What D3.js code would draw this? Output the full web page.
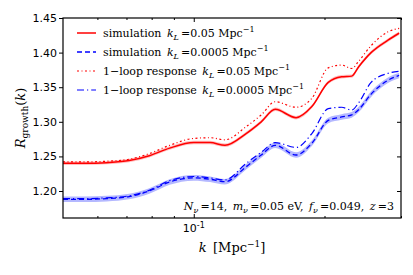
<!DOCTYPE html>
<html>
<head>
<meta charset="utf-8">
<script src="https://cdn.jsdelivr.net/npm/d3@7"></script>
<style>
  body { margin: 0; background: #fff; }
  svg { display: block; }
  .tick text { font-family: "DejaVu Sans", sans-serif; }
  .serif { font-family: "DejaVu Serif", "Liberation Serif", serif; }
</style>
</head>
<body>
<svg id="chart" width="413" height="275"></svg>
<script>
const kValues = [0.050, 0.056, 0.063, 0.071, 0.079, 0.088, 0.100, 0.109, 0.118, 0.132, 0.143,
  0.154, 0.172, 0.187, 0.204, 0.219, 0.231, 0.240, 0.256, 0.280, 0.297]
const simHigh = [1.240, 1.240, 1.241, 1.244, 1.251, 1.262, 1.270, 1.270, 1.266, 1.283, 1.300,
  1.318, 1.306, 1.322, 1.357, 1.365, 1.366, 1.380, 1.400, 1.418, 1.428]
const loopHigh = [1.242, 1.242, 1.243, 1.246, 1.254, 1.266, 1.276, 1.277, 1.274, 1.293, 1.310,
  1.329, 1.321, 1.334, 1.378, 1.382, 1.377, 1.388, 1.410, 1.430, 1.435]
const simLow = [1.188, 1.188, 1.189, 1.192, 1.200, 1.213, 1.219, 1.217, 1.2135, 1.235, 1.252,
  1.266, 1.252, 1.269, 1.302, 1.307, 1.310, 1.318, 1.340, 1.360, 1.367]
const loopLow = [1.189, 1.189, 1.190, 1.193, 1.201, 1.215, 1.221, 1.219, 1.216, 1.240, 1.256,
  1.270, 1.263, 1.283, 1.319, 1.321, 1.317, 1.328, 1.357, 1.370, 1.373]
const errHigh = 0.0025
const errLow = 0.004
const yTicks = [1.20, 1.25, 1.30, 1.35, 1.40, 1.45]
const xMinor = [0.06, 0.07, 0.08, 0.09, 0.2, 0.3]

const svg = d3.select("#chart")
const margin = {left: 63, right: 401, top: 18, bottom: 218}

const x = d3.scaleLog().domain([0.05, 0.3]).range([margin.left, margin.right])
const y = d3.scaleLinear().domain([1.161, 1.45]).range([margin.bottom, margin.top])

const series = [
  {vals: simHigh, color: "#ff0000", dash: null, width: 1.5, band: errHigh, bandColor: "#ffc0c0", label: "simulation", kl: "0.05"},
  {vals: simLow, color: "#0000ff", dash: "5,3", width: 1.3, band: errLow, bandColor: "#b4b8ff", label: "simulation", kl: "0.0005"},
  {vals: loopHigh, color: "#ff0000", dash: "2,2.5,1,2.5", width: 1.2, band: 0, label: "1\u2212loop response", kl: "0.05"},
  {vals: loopLow, color: "#0000ff", dash: "7,3,1.2,3", width: 1.2, band: 0, label: "1\u2212loop response", kl: "0.0005"}
]

const line = d3.line()
  .x(d => x(d[0]))
  .y(d => y(d[1]))
  .curve(d3.curveMonotoneX)

const area = d3.area()
  .x(d => x(d[0]))
  .y0(d => y(d[1] - d[2]))
  .y1(d => y(d[1] + d[2]))
  .curve(d3.curveMonotoneX)

svg.append("defs").append("clipPath").attr("id", "clip")
  .append("rect")
  .attr("x", margin.left).attr("y", margin.top)
  .attr("width", margin.right - margin.left).attr("height", margin.bottom - margin.top)

const plot = svg.append("g").attr("clip-path", "url(#clip)")

// error bands first
series.filter(s => s.band > 0).forEach(s => {
  plot.append("path")
    .datum(kValues.map((k, i) => [k, s.vals[i], s.band]))
    .attr("fill", s.bandColor)
    .attr("d", area)
})

series.forEach(s => {
  plot.append("path")
    .datum(kValues.map((k, i) => [k, s.vals[i]]))
    .attr("fill", "none")
    .attr("stroke", s.color)
    .attr("stroke-width", s.width)
    .attr("stroke-dasharray", s.dash)
    .attr("d", line)
})

// axes
const yAxisL = svg.append("g")
  .attr("transform", `translate(${margin.left},0)`)
  .call(d3.axisLeft(y).tickValues(yTicks).tickFormat(d3.format(".2f")).tickSize(4).tickPadding(2))
yAxisL.select(".domain").remove()
yAxisL.selectAll(".tick text").attr("font-size", 11).attr("fill", "#000")

const yAxisR = svg.append("g")
  .attr("transform", `translate(${margin.right},0)`)
  .call(d3.axisLeft(y).tickValues(yTicks).tickFormat("").tickSize(4))
yAxisR.select(".domain").remove()

const xAxisB = svg.append("g")
  .attr("transform", `translate(0,${margin.bottom})`)
  .call(d3.axisTop(x).tickValues(xMinor).tickFormat("").tickSize(2))
xAxisB.select(".domain").remove()

const xAxisB2 = svg.append("g")
  .attr("transform", `translate(0,${margin.bottom})`)
  .call(d3.axisTop(x).tickValues([0.1]).tickFormat("").tickSize(4))
xAxisB2.select(".domain").remove()

const xAxisT = svg.append("g")
  .attr("transform", `translate(0,${margin.top})`)
  .call(d3.axisBottom(x).tickValues(xMinor).tickFormat("").tickSize(2))
xAxisT.select(".domain").remove()
const xAxisT2 = svg.append("g")
  .attr("transform", `translate(0,${margin.top})`)
  .call(d3.axisBottom(x).tickValues([0.1]).tickFormat("").tickSize(4))
xAxisT2.select(".domain").remove()

svg.append("rect")
  .attr("x", margin.left).attr("y", margin.top)
  .attr("width", margin.right - margin.left).attr("height", margin.bottom - margin.top)
  .attr("fill", "none").attr("stroke", "#000").attr("stroke-width", 1.2)

// 10^-1 label
const tlab = svg.append("text")
  .attr("x", x(0.1)).attr("y", margin.bottom + 14)
  .attr("text-anchor", "middle")
  .attr("font-family", "DejaVu Sans, sans-serif")
  .attr("font-size", 11)
tlab.append("tspan").text("10")
tlab.append("tspan").attr("font-size", 8).attr("dy", -4).text("-1")

// axis titles
const xt = svg.append("text").attr("class", "serif")
  .attr("x", 232).attr("y", 252)
  .attr("text-anchor", "middle").attr("font-size", 13)
xt.append("tspan").attr("font-style", "italic").text("k")
xt.append("tspan").text("\u2002[Mpc")
xt.append("tspan").attr("font-size", 9).attr("dy", -5).text("\u22121")
xt.append("tspan").attr("dy", 5).text("]")

const yt = svg.append("text").attr("class", "serif")
  .attr("transform", `translate(25,118) rotate(-90)`)
  .attr("text-anchor", "middle").attr("font-size", 13)
yt.append("tspan").attr("font-style", "italic").text("R")
yt.append("tspan").attr("font-size", 9).attr("dy", 3).text("growth")
yt.append("tspan").attr("dy", -3).text("(")
yt.append("tspan").attr("font-style", "italic").text("k")
yt.append("tspan").text(")")

// legend
const legend = svg.append("g")
series.forEach((s, i) => {
  const ly = 33 + i * 19
  legend.append("line")
    .attr("x1", 77).attr("x2", 96).attr("y1", ly).attr("y2", ly)
    .attr("stroke", s.color).attr("stroke-width", s.width)
    .attr("stroke-dasharray", s.dash)
  const t = legend.append("text").attr("class", "serif")
    .attr("x", 103).attr("y", ly + 4).attr("font-size", 11)
  t.append("tspan").text(s.label + "\u2002")
  t.append("tspan").attr("font-style", "italic").text("k")
  t.append("tspan").attr("font-style", "italic").attr("font-size", 8).attr("dy", 3).text("L")
  t.append("tspan").attr("dy", -3).text("\u2009=" + s.kl + " Mpc")
  t.append("tspan").attr("font-size", 8).attr("dy", -5).text("\u22121")
})

// annotation
const ann = svg.append("text").attr("class", "serif")
  .attr("x", 394).attr("y", 210).attr("text-anchor", "end").attr("font-size", 11)
const parts = [["N", "\u03bd", "=14,\u2002"], ["m", "\u03bd", "=0.05 eV,\u2002"], ["f", "\u03bd", "=0.049,\u2002"], ["z", null, "=3"]]
parts.forEach(p => {
  ann.append("tspan").attr("font-style", "italic").text(p[0])
  if (p[1]) {
    ann.append("tspan").attr("font-style", "italic").attr("font-size", 8).attr("dy", 3).text(p[1])
    ann.append("tspan").attr("dy", -3).text("\u2009" + p[2])
  } else {
    ann.append("tspan").text("\u2009" + p[2])
  }
})
</script>
</body>
</html>
